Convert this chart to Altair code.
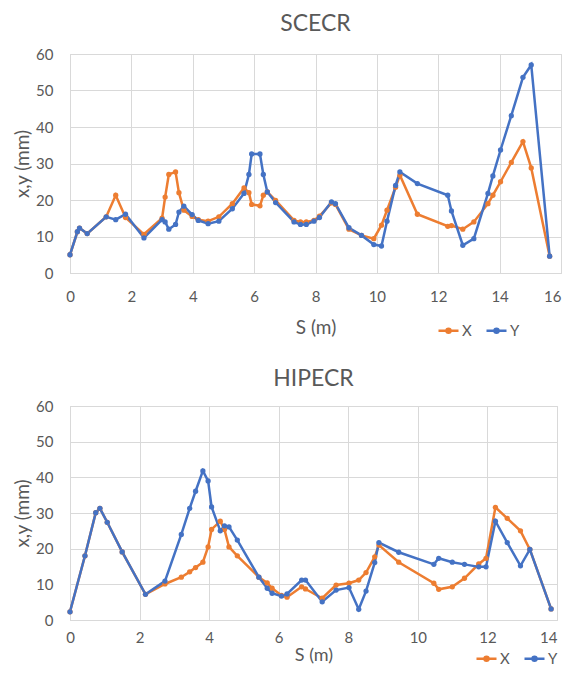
import altair as alt
import pandas as pd

# ---- SCECR (top) ----
top_S = [0, 0.24, 0.31, 0.56, 1.18, 1.49, 1.81, 2.41, 3.0, 3.1,
         3.22, 3.44, 3.55, 3.71, 3.98, 4.18, 4.50, 4.85, 5.29, 5.67,
         5.83, 5.92, 6.19, 6.30, 6.43, 6.70, 7.30, 7.51, 7.70, 7.95,
         8.13, 8.52, 8.65, 9.09, 9.50, 9.90, 10.15, 10.33, 10.61, 10.75,
         11.32, 12.31, 12.43, 12.80, 13.16, 13.62, 13.78, 14.03, 14.38, 14.76,
         15.03, 15.63]
top_X = [5.0, 11.3, 12.3, 10.8, 15.4, 21.3, 15.2, 10.6, 15.0, 20.8,
         27.0, 27.7, 22.0, 17.2, 15.5, 14.6, 14.2, 15.4, 19.0, 23.3,
         22.0, 18.8, 18.4, 21.3, 22.2, 19.9, 14.4, 14.0, 14.0, 14.4,
         15.6, 19.2, 18.8, 12.0, 10.3, 9.4, 13.1, 17.2, 23.5, 26.8,
         16.1, 12.8, 13.0, 12.0, 14.0, 19.0, 21.3, 25.0, 30.3, 36.0,
         28.8, 4.6]
top_Y = [5.0, 11.3, 12.3, 10.8, 15.4, 14.6, 16.1, 9.6, 14.6, 14.0,
         12.0, 13.3, 16.7, 18.3, 16.0, 14.4, 13.5, 14.2, 17.6, 21.8,
         27.0, 32.6, 32.6, 27.0, 22.2, 19.3, 14.0, 13.3, 13.3, 14.2,
         15.2, 19.5, 19.0, 12.4, 10.3, 7.8, 7.4, 14.2, 24.0, 27.7,
         24.5, 21.3, 17.0, 7.6, 9.4, 21.8, 26.6, 33.7, 43.1, 53.6,
         57.0, 4.6]

# ---- HIPECR (bottom) ----
bot_S = [0, 0.43, 0.74, 0.86, 1.07, 1.50, 2.17, 2.73, 3.20, 3.44,
         3.61, 3.82, 3.97, 4.07, 4.32, 4.44, 4.57, 4.81, 5.43, 5.67,
         5.81, 6.08, 6.24, 6.66, 6.77, 7.25, 7.65, 8.02, 8.30, 8.51,
         8.76, 8.88, 9.45, 10.46, 10.60, 10.99, 11.34, 11.75, 11.96, 12.23,
         12.57, 12.95, 13.22, 13.83]
bot_X = [2.3, 18.0, 30.1, 31.3, 27.4, 19.1, 7.2, 10.1, 12.0, 13.5,
         14.7, 16.2, 20.5, 25.4, 27.7, 25.4, 20.5, 18.0, 12.0, 10.4,
         8.9, 6.9, 6.4, 9.3, 8.7, 6.1, 9.8, 10.3, 11.2, 13.3,
         17.7, 21.0, 16.2, 10.3, 8.6, 9.3, 11.7, 15.7, 17.3, 31.6,
         28.5, 25.0, 19.8, 3.1]
bot_Y = [2.3, 18.0, 30.1, 31.3, 27.4, 19.1, 7.2, 10.9, 24.0, 31.3,
         36.1, 41.8, 39.0, 31.7, 25.0, 26.4, 26.1, 22.4, 12.0, 8.9,
         7.5, 6.7, 7.3, 11.2, 11.2, 5.1, 8.4, 9.1, 3.0, 8.1,
         16.1, 21.7, 19.0, 15.6, 17.3, 16.2, 15.6, 14.9, 14.9, 27.7,
         21.7, 15.2, 19.8, 3.1]

series = ["X", "Y"]
colors = ["#ED7D31", "#4472C4"]
y_ticks = [0, 10, 20, 30, 40, 50, 60]

FONT = "Lato"
GRAY = "#595959"
GRID = "#D9D9D9"
LEG_PATH = ("M-1,0L1,0 M-0.2,0 a0.2,0.2 0 1,0 0.4,0 a0.2,0.2 0 1,0 -0.4,0")


def panel(title, S, X, Y, xmax, w, h, lx, ly, lab_pad, tit_pad, tit_size, t_off):
    df = pd.DataFrame({"S": S, "X": X, "Y": Y}).melt(
        "S", var_name="series", value_name="v")
    return alt.Chart(df).mark_line(
        strokeWidth=2.5,
        point=alt.OverlayMarkDef(size=28, filled=True, opacity=1),
    ).encode(
        x=alt.X("S:Q", scale=alt.Scale(domain=[0, xmax], nice=False),
                axis=alt.Axis(values=list(range(0, xmax + 1, 2)), title="S (m)",
                              labelPadding=lab_pad, titlePadding=tit_pad,
                              titleFontSize=tit_size,
                              labelAlign=alt.condition(f"datum.value == {xmax}",
                                                       alt.value("right"),
                                                       alt.value("center")))),
        y=alt.Y("v:Q", scale=alt.Scale(domain=[0, 60], nice=False),
                axis=alt.Axis(values=y_ticks, title="x,y (mm)")),
        color=alt.Color("series:N",
                        scale=alt.Scale(domain=series, range=colors),
                        legend=alt.Legend(title=None, orient="none",
                                          legendX=lx, legendY=ly,
                                          direction="horizontal",
                                          symbolType=LEG_PATH, symbolSize=400,
                                          symbolStrokeWidth=2.5,
                                          columnPadding=9, labelOffset=2)),
    ).properties(
        width=w, height=h,
        title=alt.TitleParams(title, font=FONT, fontSize=23, fontWeight="normal",
                              color=GRAY, anchor="middle", offset=t_off),
    )


top = panel("SCECR", top_S, top_X, top_Y, 16, 491, 219, 367, 265, 16, 14, 19, 11)
bot = panel("HIPECR", bot_S, bot_X, bot_Y, 14, 487, 214, 405, 241, 10, 1, 18, 8)

chart = alt.vconcat(top, bot, spacing=27).resolve_scale(
    color="independent"
).resolve_legend(
    color="independent"
).properties(
    padding={"left": 5, "top": 4, "right": 0, "bottom": 0}
).configure_axis(
    labelFont=FONT, labelFontSize=15, labelColor=GRAY,
    titleFont=FONT, titleFontSize=19, titleColor=GRAY, titleFontWeight="normal",
    gridColor=GRID, gridWidth=1, domainColor=GRID, ticks=False,
).configure_axisY(
    labelPadding=17, titlePadding=3,
).configure_legend(
    labelFont=FONT, labelFontSize=15, labelColor=GRAY,
).configure_view(
    stroke=GRID,
)

chart.save("out.html", embed_options={"renderer": "svg", "actions": False})
